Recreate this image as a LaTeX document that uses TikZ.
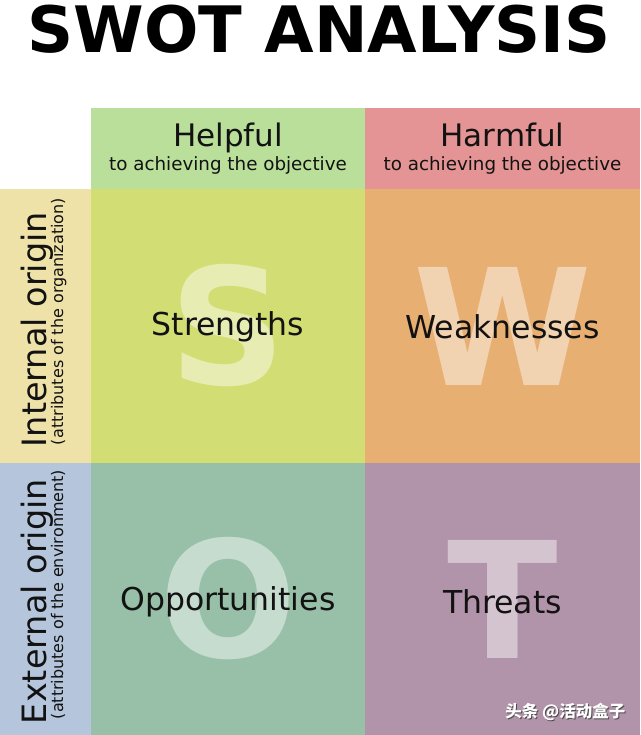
\documentclass[tikz,border=0pt]{standalone}
\usepackage{fontspec}
\setmainfont{DejaVu Sans}
\newfontfamily\cjkfont{Noto Sans CJK SC}
\usetikzlibrary{positioning}
\definecolor{helpgreen}{HTML}{B9DF9A}
\definecolor{harmred}{HTML}{E49494}
\definecolor{internyellow}{HTML}{EFE2A8}
\definecolor{externblue}{HTML}{B5C6DC}
\definecolor{strengthgreen}{HTML}{D2DE74}
\definecolor{weakorange}{HTML}{E8AF72}
\definecolor{opportgreen}{HTML}{98C0A8}
\definecolor{threatpurple}{HTML}{B294AA}

\begin{document}
\begin{tikzpicture}[x=1pt, y=-1pt, node distance=0pt,
    cell/.style={rectangle, inner sep=0pt, outer sep=0pt, minimum width=274pt, minimum height=274pt},
    head/.style={cell, minimum height=81pt},
    side/.style={cell, minimum width=91pt},
    bigletter/.style={inner sep=0pt, text=white, text opacity=0.45, font=\fontsize{162}{162}\selectfont\bfseries},
    quadtext/.style={inner sep=0pt, anchor=base, text=black!93, font=\fontsize{31.5}{32}\selectfont},
    headtext/.style={inner sep=0pt, anchor=base, text=black!93, font=\fontsize{31}{32}\selectfont},
    subtext/.style={inner sep=0pt, anchor=base, text=black!93, font=\fontsize{18.3}{20}\selectfont},
    origintext/.style={inner sep=0pt, anchor=base, rotate=90, text=black!93, font=\fontsize{33.5}{34}\selectfont},
    originsub/.style={inner sep=0pt, anchor=base, rotate=90, text=black!93, font=\fontsize{16}{17}\selectfont}]
    \useasboundingbox (0,0) rectangle (640,735);
    \node [inner sep=0pt, anchor=base, font=\fontsize{64}{64}\selectfont\bfseries] (title) at (319,53) {SWOT ANALYSIS};
    \node [head, fill=helpgreen, anchor=north west] (helpful) at (91,108) {};
    \node [head, fill=harmred, minimum width=275pt, right=of helpful] (harmful) {};
    \node [cell, fill=strengthgreen, below=of helpful] (strengths) {};
    \node [cell, fill=weakorange, minimum width=275pt, right=of strengths] (weaknesses) {};
    \node [cell, fill=opportgreen, minimum height=272pt, below=of strengths] (opportunities) {};
    \node [cell, fill=threatpurple, minimum width=275pt, minimum height=272pt, right=of opportunities] (threats) {};
    \node [side, fill=internyellow, left=of strengths] (internal) {};
    \node [side, fill=externblue, minimum height=272pt, left=of opportunities] (external) {};
    \node [headtext] (helpfultitle) at ([yshift=1.5pt]helpful.center) {Helpful};
    \node [subtext] (helpfulsub) at ([yshift=-22.5pt]helpful.center) {to achieving the objective};
    \node [headtext] (harmfultitle) at ([yshift=1.5pt]harmful.center) {Harmful};
    \node [subtext] (harmfulsub) at ([yshift=-22.5pt]harmful.center) {to achieving the objective};
    \node [origintext] (internaltitle) at ([xshift=1.2pt, yshift=-3.5pt]internal.center) {Internal origin};
    \node [originsub] (internalsub) at ([xshift=17.5pt, yshift=4.5pt]internal.center) {(attributes of the organization)};
    \node [origintext] (externaltitle) at ([xshift=1.2pt, yshift=-2.5pt]external.center) {External origin};
    \node [originsub] (externalsub) at ([xshift=17.5pt, yshift=4.5pt]external.center) {(attributes of the environment)};
    \node [bigletter] (bigS) at (strengths.center) {S};
    \node [bigletter] (bigW) at (weaknesses.center) {W};
    \node [bigletter] (bigO) at (opportunities.center) {O};
    \node [bigletter] (bigT) at (threats.center) {T};
    \node [quadtext] (strengthstext) at ([yshift=-9pt]strengths.center) {Strengths};
    \node [quadtext] (weaknessestext) at ([yshift=-12pt]weaknesses.center) {Weaknesses};
    \node [quadtext] (opportunitiestext) at ([yshift=-11pt]opportunities.center) {Opportunities};
    \node [quadtext] (threatstext) at ([yshift=-14pt]threats.center) {Threats};
    \node [inner sep=0pt, anchor=base east, text=black!70, font=\cjkfont\fontsize{16.5}{17}\selectfont\bfseries] (markshadow) at (626.5,718.5) {头条 @活动盒子};
    \node [inner sep=0pt, anchor=base east, text=white, font=\cjkfont\fontsize{16.5}{17}\selectfont\bfseries] (mark) at (625.5,717.5) {头条 @活动盒子};
\end{tikzpicture}
\end{document}
